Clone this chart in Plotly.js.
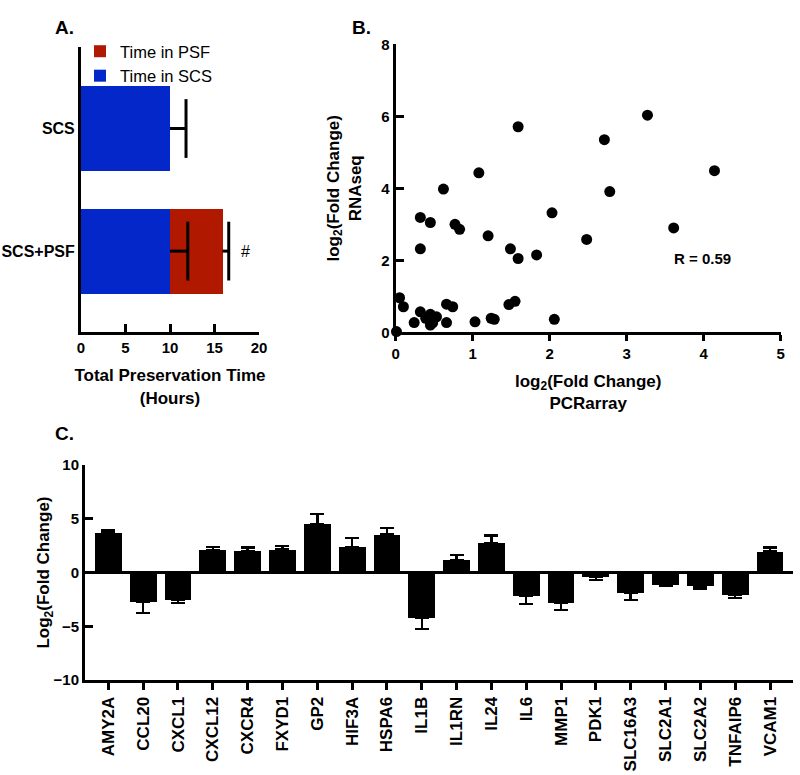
<!DOCTYPE html>
<html><head><meta charset="utf-8">
<script src="https://cdn.plot.ly/plotly-3.0.1.min.js"></script>
<style>html,body{margin:0;padding:0;background:#fff}#chart{width:800px;height:775px}</style>
</head><body><div id="chart"></div>
<script>
// ---- Panel A: preservation time ----
const groups = ['SCS', 'SCS+PSF'];
const timeSCS = [10, 10];
const timePSF = [null, 5.9];
const errSCS = [1.8, 2.0];
const errPSF = [null, 0.7];
const legendSCS = 'Time in SCS';
const legendPSF = 'Time in PSF';

// ---- Panel B: PCR array vs RNAseq ----
const pcrArray = [0.05, 0.10, 0.01, 0.24, 0.32, 0.32, 0.45, 0.32, 0.45, 0.39, 0.45, 0.53, 0.62, 0.66, 0.74, 0.66,
  0.77, 0.83, 1.08, 1.03, 1.20, 1.24, 1.28, 1.49, 1.47, 1.55, 1.59, 1.59, 1.83, 2.03, 2.06, 2.48, 2.71, 2.78,
  3.27, 3.61, 4.14, 0.48];
const rnaSeq = [0.96, 0.71, 0.02, 0.27, 0.57, 3.19, 3.05, 2.32, 0.50, 0.39, 0.20, 0.43, 3.98, 0.78, 0.71, 0.27,
  3.00, 2.86, 4.43, 0.29, 2.68, 0.39, 0.36, 2.32, 0.77, 0.86, 5.71, 2.05, 2.15, 3.32, 0.36, 2.58, 5.35, 3.91,
  6.03, 2.90, 4.49, 0.26];
const rLabel = 'R = 0.59';

// ---- Panel C: gene fold changes ----
const genes = ['AMY2A', 'CCL20', 'CXCL1', 'CXCL12', 'CXCR4', 'FXYD1', 'GP2', 'HIF3A', 'HSPA6', 'IL1B',
  'IL1RN', 'IL24', 'IL6', 'MMP1', 'PDK1', 'SLC16A3', 'SLC2A1', 'SLC2A2', 'TNFAIP6', 'VCAM1'];
const foldChange = [3.72, -2.76, -2.54, 2.08, 2.02, 2.14, 4.53, 2.39, 3.53, -4.19,
  1.18, 2.73, -2.14, -2.82, -0.40, -1.86, -1.12, -1.30, -2.05, 1.95];
const foldSEM = [0.25, 1.02, 0.31, 0.28, 0.31, 0.34, 0.93, 0.83, 0.63, 1.05,
  0.43, 0.71, 0.81, 0.68, 0.28, 0.71, 0.12, 0.19, 0.34, 0.38];

const FONT = 'Liberation Sans, Arial, sans-serif';
const W = 800, H = 775;
const px = v => v / W;
const py = v => 1 - v / H;

// error bar tips for panel A
const errX = [], errY = [], errLen = [];
groups.forEach((g, i) => {
  errX.push(timeSCS[i] + errSCS[i]); errY.push(g); errLen.push(errSCS[i]);
  if (timePSF[i] !== null) {
    errX.push(timeSCS[i] + timePSF[i] + errPSF[i]); errY.push(g); errLen.push(errPSF[i]);
  }
});

const upErr = foldChange.map((v, i) => v >= 0 ? foldSEM[i] : 0);
const downErr = foldChange.map((v, i) => v < 0 ? foldSEM[i] : 0);

const traces = [
  {type: 'bar', orientation: 'h', x: timeSCS, y: groups, name: legendSCS, width: 0.694,
   marker: {color: '#0427c9'}, xaxis: 'x', yaxis: 'y', hoverinfo: 'skip'},
  {type: 'bar', orientation: 'h', x: timePSF, y: groups, name: legendPSF, width: 0.694,
   marker: {color: '#b01800'}, xaxis: 'x', yaxis: 'y', hoverinfo: 'skip'},
  {type: 'scatter', mode: 'markers', x: errX, y: errY, showlegend: false, xaxis: 'x', yaxis: 'y',
   marker: {symbol: 'line-ns', size: 42, color: 'black', line: {width: 3, color: 'black'}},
   error_x: {type: 'data', symmetric: false, array: errLen.map(() => 0), arrayminus: errLen,
             width: 0, thickness: 3, color: 'black'}, cliponaxis: false},
  {type: 'scatter', mode: 'markers', x: pcrArray, y: rnaSeq, showlegend: false, xaxis: 'x2', yaxis: 'y2',
   marker: {color: 'black', size: 11}, cliponaxis: false},
  {type: 'bar', x: genes, y: foldChange, showlegend: false, xaxis: 'x3', yaxis: 'y3', width: 0.77,
   marker: {color: 'black'},
   error_y: {type: 'data', symmetric: false, array: upErr, arrayminus: downErr, width: 7, thickness: 2.5, color: 'black'}}
];

const tickBold = s => ({family: FONT, size: s, color: 'black', weight: 'bold'});
const titleFont = {family: FONT, size: 17, color: 'black', weight: 'bold'};
const baseAx = {showline: true, linewidth: 3, linecolor: 'black', showgrid: false, zeroline: false,
  tickcolor: 'black', tickwidth: 3, automargin: false};

const layout = {
  width: W, height: H, margin: {l: 0, r: 0, t: 0, b: 0},
  paper_bgcolor: 'white', plot_bgcolor: 'white',
  font: {family: FONT, color: 'black'},
  barmode: 'stack', showlegend: true,
  legend: {x: px(80), y: py(34), xanchor: 'left', yanchor: 'top', traceorder: 'reversed',
           font: {family: FONT, size: 16.5, color: 'black'}, bgcolor: 'rgba(0,0,0,0)', tracegroupgap: 0},
  xaxis: Object.assign({}, baseAx, {domain: [px(81), px(259)], range: [0, 20], tickvals: [0, 5, 10, 15, 20],
    ticks: 'inside', ticklen: 8, tickfont: tickBold(15), anchor: 'y',
    title: {text: 'Total Preservation Time<br>(Hours)', font: titleFont, standoff: 15}}),
  yaxis: Object.assign({}, baseAx, {domain: [py(332), py(47)], type: 'category', range: [1.66, -0.665],
    ticks: '', tickfont: tickBold(16), anchor: 'x'}),
  xaxis2: Object.assign({}, baseAx, {domain: [px(395.7), px(780.7)], range: [0, 5], dtick: 1,
    ticks: 'outside', ticklen: 6, tickfont: tickBold(15), anchor: 'y2',
    title: {text: 'log<sub>2</sub>(Fold Change)<br>PCRarray', font: titleFont, standoff: 14}}),
  yaxis2: Object.assign({}, baseAx, {domain: [py(332.3), py(44.3)], range: [0, 8], dtick: 2,
    ticks: 'inside', ticklen: 8, tickfont: tickBold(15), anchor: 'x2',
    title: {text: 'log<sub>2</sub>(Fold Change)<br>RNAseq', font: titleFont, standoff: 16}}),
  xaxis3: Object.assign({}, baseAx, {domain: [px(85), px(793)], type: 'category', range: [-0.67, 19.66],
    ticks: 'outside', ticklen: 7, tickangle: -90, tickfont: tickBold(17), anchor: 'y3'}),
  yaxis3: Object.assign({}, baseAx, {domain: [py(680), py(465)], range: [-10, 10], dtick: 5,
    ticks: 'inside', ticklen: 8, tickfont: tickBold(15), anchor: 'x3',
    zeroline: true, zerolinecolor: 'black', zerolinewidth: 2.5,
    title: {text: 'Log<sub>2</sub>(Fold Change)', font: titleFont, standoff: 0}}),
  annotations: [
    {text: 'A.', xref: 'paper', yref: 'paper', x: px(53), y: py(15), showarrow: false,
     font: {family: FONT, size: 19, weight: 'bold', color: 'black'}},
    {text: 'B.', xref: 'paper', yref: 'paper', x: px(361), y: py(15), showarrow: false,
     font: {family: FONT, size: 19, weight: 'bold', color: 'black'}},
    {text: 'C.', xref: 'paper', yref: 'paper', x: px(53), y: py(433), showarrow: false,
     font: {family: FONT, size: 19, weight: 'bold', color: 'black'}},
    {text: '#', xref: 'x', yref: 'y', x: 18.5, y: 1, showarrow: false,
     font: {family: FONT, size: 16, color: 'black'}},
    {text: rLabel, xref: 'x2', yref: 'y2', x: 3.99, y: 2.04, showarrow: false,
     font: {family: FONT, size: 15, weight: 'bold', color: 'black'}}
  ]
};

Plotly.newPlot('chart', traces, layout, {staticPlot: true, displayModeBar: false});
</script>
</body></html>
